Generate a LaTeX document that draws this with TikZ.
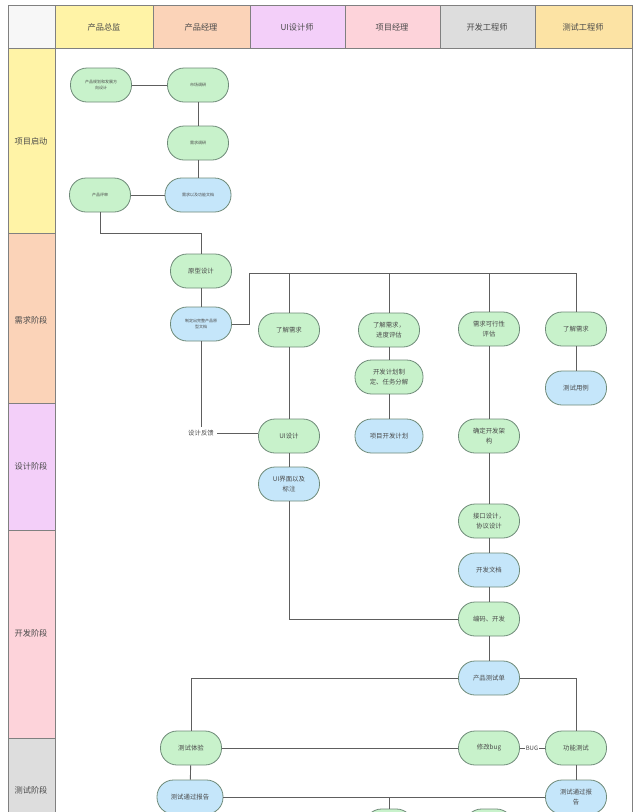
\documentclass[tikz,border=0pt]{standalone}
\usepackage{fontspec}
\newfontfamily\cjk{Noto Sans CJK SC}
\definecolor{laneyellow}{HTML}{FFF3A6}
\definecolor{lanepeach}{HTML}{FBD3B8}
\definecolor{laneviolet}{HTML}{F3CFF9}
\definecolor{lanepink}{HTML}{FDD3DA}
\definecolor{lanegray}{HTML}{DDDDDD}
\definecolor{laneorange}{HTML}{FCE3A4}
\definecolor{boxgreen}{HTML}{C8F2CB}
\definecolor{boxblue}{HTML}{C5E6FA}
\definecolor{boxline}{HTML}{6E8A78}
\definecolor{linkgray}{HTML}{5E5E5E}
\definecolor{textgray}{HTML}{4A4A4A}
\begin{document}
\begin{tikzpicture}[x=1pt,y=-1pt,font=\cjk,text=textgray]
    \tikzstyle{lane} = [draw=black!50,line width=.7pt]
    \tikzstyle{lanetext} = [font=\cjk\fontsize{8.2}{10}\selectfont]
    \tikzstyle{greenbox} = [draw=boxline,fill=boxgreen,rounded corners=16.5pt,line width=.8pt,
                            minimum width=61pt,minimum height=34pt,align=center,
                            font=\cjk\fontsize{6.4}{10}\selectfont]
    \tikzstyle{bluebox} = [greenbox,fill=boxblue]
    \tikzstyle{tiny} = [font=\cjk\fontsize{4}{6}\selectfont]
    \tikzstyle{link} = [draw=linkgray,line width=.9pt]
    \useasboundingbox (0,0) rectangle (640,812);
    \clip (0,0) rectangle (640,812);
    % header
    \filldraw[lane,fill=gray!6] (8,5) rectangle (55,48);
    \filldraw[lane,fill=laneyellow] (55,5) rectangle (153,48);
    \filldraw[lane,fill=lanepeach] (153,5) rectangle (250,48);
    \filldraw[lane,fill=laneviolet] (250,5) rectangle (345,48);
    \filldraw[lane,fill=lanepink] (345,5) rectangle (440,48);
    \filldraw[lane,fill=lanegray] (440,5) rectangle (535,48);
    \filldraw[lane,fill=laneorange] (535,5) rectangle (632,48);
    \node[lanetext] (h1) at (104,27) {产品总监};
    \node[lanetext] (h2) at (201,27) {产品经理};
    \node[lanetext] (h3) at (297,27) {UI设计师};
    \node[lanetext] (h4) at (392,27) {项目经理};
    \node[lanetext] (h5) at (487,27) {开发工程师};
    \node[lanetext] (h6) at (583,27) {测试工程师};
    % phases
    \filldraw[lane,fill=laneyellow] (8,48) rectangle (55,233);
    \filldraw[lane,fill=lanepeach] (8,233) rectangle (55,403);
    \filldraw[lane,fill=laneviolet] (8,403) rectangle (55,530);
    \filldraw[lane,fill=lanepink] (8,530) rectangle (55,738);
    \filldraw[lane,fill=lanegray] (8,738) rectangle (55,830);
    \node[lanetext] (p1) at (31,141) {项目启动};
    \node[lanetext] (p2) at (31,320) {需求阶段};
    \node[lanetext] (p3) at (31,466) {设计阶段};
    \node[lanetext] (p4) at (31,633) {开发阶段};
    \node[lanetext] (p5) at (31,790) {测试阶段};
    \draw[lane] (632,48)--(632,812);
    % project start
    \node[greenbox,tiny] (plan) at (101,85) {产品规划和发展方\\向设计};
    \node[greenbox,tiny] (market) at (198,85) {市场调研};
    \node[greenbox,tiny] (survey) at (198,143) {需求调研};
    \node[greenbox,tiny] (review) at (100,195) {产品评审};
    \node[bluebox,tiny,minimum width=66pt] (reqdoc) at (198,195) {需求以及功能文档};
    % requirements
    \node[greenbox] (proto) at (201,271) {原型设计};
    \node[bluebox,tiny] (protodoc) at (201,324) {制定出完整产品原\\型文档};
    \coordinate (turn) at (201,233);
    \coordinate (bus) at (249,273);
    \node[greenbox] (uireq) at (289,330) {了解需求};
    \node[greenbox] (pmreq) at (389,330) {了解需求，\\进度评估};
    \node[greenbox,minimum width=68pt] (pmplan) at (389,377) {开发计划制\\定、任务分解};
    \node[greenbox] (devreq) at (489,329) {需求可行性\\评估};
    \node[greenbox] (testreq) at (576,329) {了解需求};
    \node[bluebox] (cases) at (576,388) {测试用例};
    % design
    \node (feedback) at (201,433) {\fontsize{6.4}{8}\selectfont 设计反馈};
    \node[greenbox] (uidesign) at (289,436) {UI设计};
    \node[bluebox,minimum width=68pt] (pmdoc) at (389,436) {项目开发计划};
    \node[greenbox] (arch) at (489,436) {确定开发架\\构};
    \node[bluebox] (uimark) at (289,484) {UI界面以及\\标注};
    % development
    \node[greenbox] (iface) at (489,521) {接口设计，\\协议设计};
    \node[bluebox] (devdoc) at (489,570) {开发文档};
    \node[greenbox] (coding) at (489,619) {编码、开发};
    % testing
    \node[bluebox] (testform) at (489,678) {产品测试单};
    \node[greenbox] (trial) at (191,748) {测试体验};
    \node[greenbox] (fixbug) at (489,748) {修改bug};
    \node[greenbox] (functest) at (576,748) {功能测试};
    \node[inner sep=1pt,fill=white] (bug) at (532,748) {\fontsize{6}{8}\selectfont BUG};
    \node[bluebox,minimum width=66pt] (reportl) at (190,797) {测试通过报告};
    \node[bluebox] (reportr) at (576,797) {测试通过报\\告};
    \node[greenbox,minimum width=48pt] (nextl) at (389,826) {};
    \node[greenbox,minimum width=48pt] (nextr) at (489,826) {};
    % links
    \draw[link] (plan)--(market);
    \draw[link] (market)--(survey);
    \draw[link] (survey)--(reqdoc);
    \draw[link] (review)--(reqdoc);
    \draw[link] (review.south) |- (turn) -- (proto.north);
    \draw[link] (proto)--(protodoc);
    \draw[link] (protodoc.east) -| (bus) -| (testreq.north);
    \foreach \n in {uireq,pmreq,devreq}
        \draw[link] (\n.north)--(\n.north |- bus);
    \draw[link] (protodoc.south)--(feedback.north);
    \draw[link] (feedback.east)--(feedback.east -| uidesign.west);
    \draw[link] (uireq)--(uidesign);
    \draw[link] (uidesign)--(uimark);
    \draw[link] (pmreq)--(pmplan);
    \draw[link] (pmplan)--(pmdoc);
    \draw[link] (testreq)--(cases);
    \draw[link] (devreq)--(arch);
    \draw[link] (arch)--(iface);
    \draw[link] (iface)--(devdoc);
    \draw[link] (devdoc)--(coding);
    \draw[link] (uimark.south) |- (coding.west);
    \draw[link] (coding)--(testform);
    \draw[link] (testform.west) -| (trial.north);
    \draw[link] (testform.east) -| (functest.north);
    \draw[link] (trial)--(fixbug);
    \draw[link] (fixbug)--(bug);
    \draw[link] (bug)--(functest);
    \draw[link] (trial)--(reportl);
    \draw[link] (functest)--(reportr);
    \draw[link] (reportl)--(reportr);
    \draw[link] (nextl.north)--(nextl.north |- reportl);
\end{tikzpicture}
\end{document}
